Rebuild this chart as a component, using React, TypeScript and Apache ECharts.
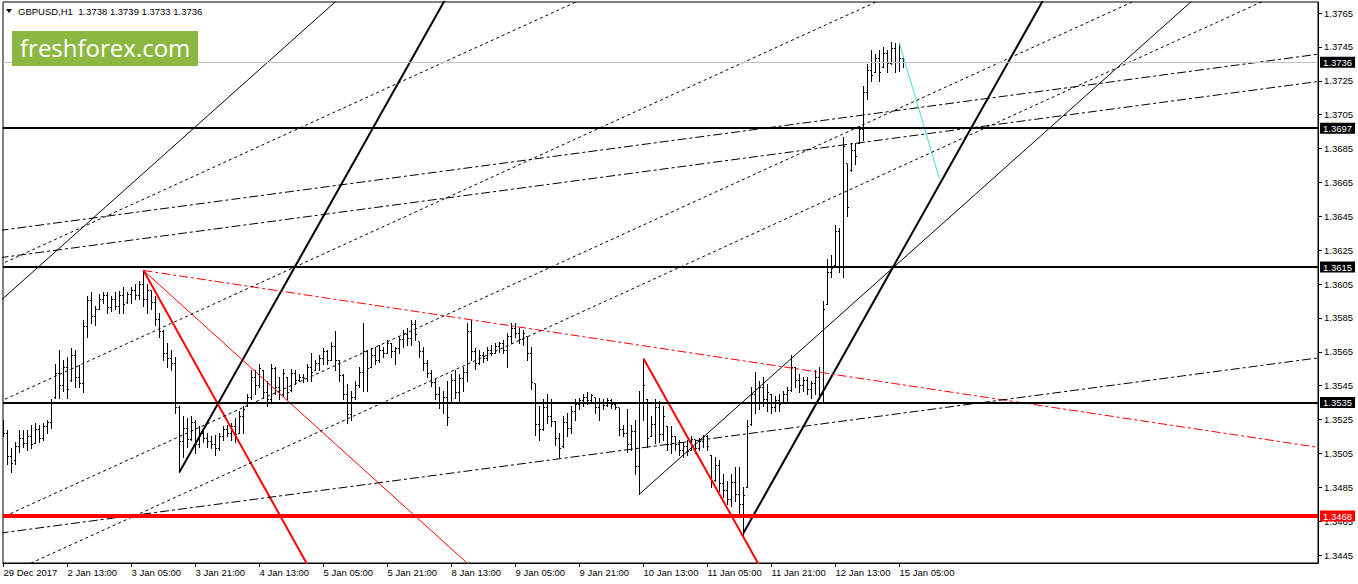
import React, { useEffect, useRef } from "react";
import * as echarts from "echarts";

// ---------- data ----------
const symbol = "GBPUSD";
const period = "H1";
const PIP = 10000;

const timeLabels = ["29 Dec 2017", "2 Jan 13:00", "3 Jan 05:00", "3 Jan 21:00", "4 Jan 13:00", "5 Jan 05:00", "5 Jan 21:00", "8 Jan 13:00", "9 Jan 05:00", "9 Jan 21:00", "10 Jan 13:00", "11 Jan 05:00", "11 Jan 21:00", "12 Jan 13:00", "15 Jan 05:00"];
const timeLabelBars = [0, 16, 32, 48, 64, 80, 96, 112, 128, 144, 160, 176, 192, 208, 224];

const priceTicks = [1.3445, 1.3465, 1.3485, 1.3505, 1.3525, 1.3545, 1.3565, 1.3585, 1.3605, 1.3625, 1.3645, 1.3665, 1.3685, 1.3705, 1.3725, 1.3745, 1.3765];

// OHLC of hourly bars, in pips (price * 10000)
const opens = [13520,13517,13503,13501,13509,13514,13511,13515,13511,13519,13514,13521,13523,13538,13552,13545,13556,13548,13563,13550,13546,13580,13595,13586,13590,13596,13598,13591,13596,13592,13598,13594,13599,13601,13598,13605,13596,13601,13594,13584,13577,13564,13561,13558,13532,13512,13520,13513,13523,13510,13517,13514,13512,13510,13508,13515,13519,13517,13521,13517,13527,13533,13538,13550,13545,13554,13541,13537,13555,13544,13540,13550,13542,13552,13548,13550,13549,13556,13554,13558,13561,13565,13560,13568,13560,13551,13540,13528,13538,13545,13553,13565,13556,13563,13560,13566,13564,13570,13565,13567,13572,13575,13573,13581,13571,13565,13558,13552,13547,13540,13535,13538,13535,13548,13541,13549,13553,13577,13565,13558,13563,13561,13566,13564,13568,13570,13566,13574,13579,13576,13572,13574,13564,13546,13522,13519,13532,13527,13524,13514,13509,13523,13520,13530,13534,13536,13538,13536,13538,13532,13535,13533,13536,13534,13532,13519,13517,13510,13518,13497,13535,13537,13515,13522,13532,13516,13521,13510,13515,13510,13507,13509,13507,13513,13508,13512,13515,13504,13489,13498,13487,13483,13478,13488,13481,13475,13485,13522,13540,13535,13544,13537,13540,13532,13536,13535,13540,13542,13556,13548,13545,13548,13543,13546,13550,13540,13593,13612,13616,13636,13615,13676,13672,13684,13688,13696,13718,13731,13730,13738,13733,13741,13735,13744,13736,13738];
const highs = [13525,13519,13508,13512,13519,13519,13519,13522,13523,13522,13523,13525,13537,13558,13566,13560,13562,13567,13566,13557,13584,13598,13600,13592,13599,13600,13600,13598,13600,13601,13603,13600,13603,13605,13607,13613,13605,13601,13598,13588,13578,13570,13566,13562,13533,13527,13526,13527,13525,13521,13520,13517,13515,13516,13517,13521,13522,13523,13526,13530,13533,13540,13554,13554,13558,13554,13548,13558,13556,13550,13555,13550,13555,13554,13552,13552,13558,13564,13560,13563,13567,13566,13571,13577,13560,13552,13546,13542,13548,13556,13582,13566,13567,13568,13569,13568,13572,13570,13568,13574,13578,13579,13584,13584,13571,13568,13560,13554,13549,13544,13542,13548,13552,13554,13552,13556,13582,13584,13567,13566,13565,13568,13569,13570,13571,13572,13576,13582,13582,13579,13578,13574,13568,13546,13533,13537,13540,13537,13524,13517,13527,13529,13533,13537,13538,13540,13541,13540,13538,13538,13537,13538,13537,13535,13532,13522,13531,13522,13525,13542,13561,13537,13527,13537,13536,13533,13521,13521,13515,13513,13511,13513,13515,13513,13514,13516,13516,13504,13503,13501,13493,13489,13493,13497,13497,13485,13525,13544,13553,13548,13550,13546,13540,13539,13540,13542,13544,13563,13556,13552,13550,13550,13548,13554,13556,13595,13620,13622,13640,13638,13692,13676,13688,13688,13698,13722,13735,13743,13741,13743,13745,13743,13748,13747,13747,13739];
const lows = [13515,13499,13494,13499,13506,13509,13507,13508,13511,13512,13513,13517,13520,13538,13538,13542,13538,13548,13544,13544,13541,13574,13582,13581,13590,13594,13588,13589,13590,13588,13588,13594,13594,13596,13596,13592,13588,13590,13581,13574,13560,13556,13554,13529,13494,13503,13509,13513,13505,13509,13512,13509,13508,13504,13507,13513,13515,13513,13512,13517,13517,13533,13537,13540,13544,13538,13533,13535,13540,13537,13539,13537,13542,13546,13548,13547,13548,13548,13554,13554,13558,13558,13560,13554,13548,13537,13523,13525,13537,13544,13542,13542,13556,13558,13559,13562,13564,13562,13558,13564,13568,13569,13569,13572,13562,13554,13550,13545,13537,13532,13529,13522,13535,13538,13535,13542,13548,13560,13555,13558,13559,13560,13563,13564,13565,13564,13556,13570,13574,13570,13569,13560,13543,13516,13513,13519,13523,13521,13510,13503,13509,13515,13517,13525,13531,13533,13534,13535,13529,13525,13531,13533,13532,13531,13516,13515,13506,13507,13493,13481,13525,13509,13515,13511,13512,13513,13507,13505,13507,13504,13503,13504,13507,13505,13507,13509,13507,13485,13489,13483,13479,13475,13474,13477,13470,13457,13485,13522,13529,13531,13533,13530,13529,13530,13530,13535,13536,13542,13544,13541,13542,13540,13538,13540,13537,13536,13593,13609,13616,13612,13609,13645,13672,13676,13688,13690,13714,13725,13730,13725,13733,13730,13735,13730,13731,13733];
const closes = [13517,13503,13499,13509,13514,13511,13515,13510,13519,13514,13521,13523,13535,13552,13545,13556,13543,13563,13550,13546,13580,13595,13586,13590,13596,13598,13591,13596,13592,13598,13593,13599,13601,13598,13605,13596,13601,13594,13584,13577,13564,13561,13558,13532,13512,13520,13513,13523,13510,13517,13514,13512,13510,13508,13515,13519,13517,13521,13516,13527,13531,13538,13550,13545,13555,13541,13537,13555,13544,13540,13552,13541,13552,13548,13550,13549,13556,13553,13558,13561,13565,13560,13568,13560,13551,13540,13528,13538,13545,13553,13565,13555,13563,13560,13566,13564,13570,13565,13567,13572,13575,13573,13581,13575,13565,13558,13552,13547,13540,13535,13538,13526,13548,13541,13549,13553,13577,13565,13558,13563,13561,13566,13564,13568,13570,13566,13574,13579,13576,13572,13576,13564,13547,13522,13519,13532,13527,13524,13514,13508,13523,13520,13530,13534,13536,13538,13536,13539,13532,13535,13533,13536,13534,13532,13519,13517,13510,13518,13497,13535,13545,13514,13522,13532,13516,13527,13510,13515,13510,13507,13509,13506,13513,13508,13512,13515,13509,13489,13498,13487,13483,13478,13488,13481,13475,13480,13521,13540,13535,13544,13537,13541,13532,13536,13534,13540,13542,13556,13548,13545,13548,13543,13546,13550,13540,13590,13612,13614,13636,13615,13686,13650,13684,13680,13696,13718,13731,13728,13738,13730,13741,13735,13744,13736,13738,13736];

// trend lines: [name, bar1, price1, bar2, price2]
const trendLines: [string, number, number, number, number][] = [
  ["channelUpper", -1, 1.35946, 84, 1.37738],
  ["channelLower", 159, 1.3481, 300, 1.37782],
  ["trendA", 44, 1.3494, 112, 1.37796],
  ["trendB", 185, 1.3458, 262, 1.37814],
  ["fanSteep", 35, 1.3613, 78, 1.34307],
  ["fanMid", 35, 1.3613, 118, 1.34358],
  ["fanFlat", 35, 1.3613, 330, 1.35081],
  ["dropB", 160, 1.3561, 190, 1.34344],
  ["target", 224, 1.3747, 234, 1.3667],
  ["dot1", -1, 1.36163, 146, 1.37746],
  ["dot2", -1, 1.35355, 222, 1.37757],
  ["dot3", -1, 1.34665, 286, 1.37756],
  ["dot4", 0, 1.34328, 318, 1.37753],
  ["dashDot1", -1, 1.36366, 330, 1.37411],
  ["dashDot2", -1, 1.36205, 330, 1.3725],
  ["dashDot3", -1, 1.34579, 330, 1.35618],
];

const blackLevels = [1.3697, 1.3615, 1.3535];
const redLevels = [1.3468];

// ---------- styles ----------
const FONT = "'Liberation Sans', Arial, sans-serif";
const DOT = [3, 3];
const DASHDOT = [9, 3, 3, 3];
const lineStyles: Record<string, any> = {
  channelUpper: { color: "#000", width: 1, type: "solid" },
  channelLower: { color: "#000", width: 1, type: "solid" },
  trendA: { color: "#000", width: 2, type: "solid" },
  trendB: { color: "#000", width: 2, type: "solid" },
  fanSteep: { color: "#ff0000", width: 2, type: "solid" },
  fanMid: { color: "#ff0000", width: 1, type: "solid" },
  fanFlat: { color: "#ff0000", width: 1, type: DASHDOT },
  dropB: { color: "#ff0000", width: 2, type: "solid" },
  target: { color: "#40e0d0", width: 1, type: "solid" },
  dot1: { color: "#000", width: 1, type: DOT },
  dot2: { color: "#000", width: 1, type: DOT },
  dot3: { color: "#000", width: 1, type: DOT },
  dot4: { color: "#000", width: 1, type: DOT },
  dashDot1: { color: "#000", width: 1, type: DASHDOT },
  dashDot2: { color: "#000", width: 1, type: DASHDOT },
  dashDot3: { color: "#000", width: 1, type: DASHDOT },
};

const W = 1358;
const H = 584;
const GRID = { left: 3, right: 40, top: 2, bottom: 21 };
const BAR_PX = 4;

export default function App() {
  const ref = useRef<HTMLDivElement>(null);

  useEffect(() => {
    if (!ref.current) return;
    const chart = echarts.init(ref.current, undefined, { renderer: "svg" });

    const bars = opens.map((o, i) => [i, o / PIP, highs[i] / PIP, lows[i] / PIP, closes[i] / PIP]);
    const last = bars.length - 1;
    const fmt = (v: number) => v.toFixed(4);
    const bid = closes[last] / PIP;

    const plotW = W - GRID.left - GRID.right;
    const xMin = -0.125;
    const xMax = xMin + plotW / BAR_PX;

    const labelMap: Record<number, string> = {};
    timeLabelBars.forEach((b, k) => (labelMap[b] = timeLabels[k]));

    const levelLabel = (bg: string) => ({
      show: true,
      position: "end",
      distance: 2,
      formatter: (p: any) => fmt(Number(p.value)),
      backgroundColor: bg,
      color: "#fff",
      padding: [1, 3, 0, 3],
      fontSize: 9.5,
      lineHeight: 10,
      fontFamily: FONT,
    });

    const markLineData: any[] = [
      { yAxis: bid, lineStyle: { color: "#c0c0c0", width: 1, type: "solid" }, label: levelLabel("#000") },
      ...blackLevels.map((v) => ({ yAxis: v, lineStyle: { color: "#000", width: 2, type: "solid" }, label: levelLabel("#000") })),
      ...redLevels.map((v) => ({ yAxis: v, lineStyle: { color: "#ff0000", width: 4, type: "solid" }, label: levelLabel("#ff0000") })),
    ];

    const lineSeries = trendLines.map(([name, i1, p1, i2, p2], k) => {
      const s: any = {
        type: "line",
        name,
        data: [[i1, p1], [i2, p2]],
        symbol: "none",
        showSymbol: false,
        silent: true,
        clip: true,
        z: 4,
        lineStyle: { ...lineStyles[name] },
      };
      if (k === 0) {
        s.markLine = { symbol: ["none", "none"], silent: true, animation: false, precision: 5, data: markLineData };
      }
      return s;
    });

    const NB = "\u00a0";
    const titleText = `${symbol},${period}${NB}${NB}${fmt(opens[last] / PIP)} ${fmt(highs[last] / PIP)} ${fmt(lows[last] / PIP)} ${fmt(closes[last] / PIP)}`;

    const option: any = {
      animation: false,
      backgroundColor: "#fff",
      textStyle: { fontFamily: FONT },
      grid: { ...GRID, show: true, borderColor: "#000", borderWidth: 1, backgroundColor: "#fff" },
      xAxis: {
        type: "value",
        min: xMin,
        max: xMax,
        axisLine: { show: true, onZero: false, lineStyle: { color: "#000", width: 1 } },
        axisTick: { show: true, length: 4, lineStyle: { color: "#000" }, customValues: timeLabelBars },
        axisLabel: {
          customValues: timeLabelBars,
          formatter: (v: number) => labelMap[Math.round(v)] ?? "",
          align: "left",
          margin: 4,
          color: "#000",
          fontSize: 9.5,
          fontFamily: FONT,
        },
        splitLine: { show: false },
      },
      yAxis: {
        type: "value",
        position: "right",
        min: 1.34403,
        max: 1.37715,
        scale: true,
        axisLine: { show: true, onZero: false, lineStyle: { color: "#000", width: 1 } },
        axisTick: { show: true, length: 4, lineStyle: { color: "#000" }, customValues: priceTicks },
        axisLabel: {
          customValues: priceTicks,
          formatter: (v: number) => fmt(v),
          margin: 6,
          color: "#000",
          fontSize: 9.5,
          fontFamily: FONT,
        },
        splitLine: { show: false },
      },
      series: [
        {
          type: "custom",
          name: "bars",
          data: bars,
          encode: { x: 0, y: [1, 2, 3, 4] },
          silent: true,
          z: 2,
          clip: true,
          renderItem: (params: any, api: any) => {
            const i = api.value(0);
            const ph = api.coord([i, api.value(2)]);
            const pl = api.coord([i, api.value(3)]);
            const po = api.coord([i, api.value(1)]);
            const pc = api.coord([i, api.value(4)]);
            const x = Math.round(ph[0] - 0.5) + 0.5;
            const snap = (y: number) => Math.round(y - 0.5) + 0.5;
            const st = { stroke: "#000", lineWidth: 1 };
            return {
              type: "group",
              children: [
                { type: "line", shape: { x1: x, y1: Math.round(ph[1]), x2: x, y2: Math.round(pl[1]) + 1 }, style: st },
                { type: "line", shape: { x1: x - 1.5, y1: snap(po[1]), x2: x, y2: snap(po[1]) }, style: st },
                { type: "line", shape: { x1: x, y1: snap(pc[1]), x2: x + 1.5, y2: snap(pc[1]) }, style: st },
              ],
            };
          },
        },
        ...lineSeries,
      ],
      graphic: [
        { type: "polygon", shape: { points: [[6, 9], [12, 9], [9, 13]] }, style: { fill: "#000" }, z: 10 },
        {
          type: "text",
          x: 18,
          y: 11,
          style: {
            text: titleText,
            fill: "#000",
            fontSize: 9.5,
            fontFamily: FONT,
            verticalAlign: "middle",
          },
          z: 10,
        },
        { type: "rect", shape: { x: 12, y: 31, width: 186, height: 35 }, style: { fill: "#8cb842" }, z: 10 },
        {
          type: "text",
          x: 20,
          y: 47,
          style: { text: "freshforex.com", fill: "#fff", fontSize: 24, fontFamily: "'Open Sans', sans-serif", verticalAlign: "middle" },
          z: 11,
        },
      ],
    };

    chart.setOption(option);
    return () => chart.dispose();
  }, []);

  return <div ref={ref} style={{ position: "absolute", left: 0, top: 0, width: W, height: H }} />;
}
